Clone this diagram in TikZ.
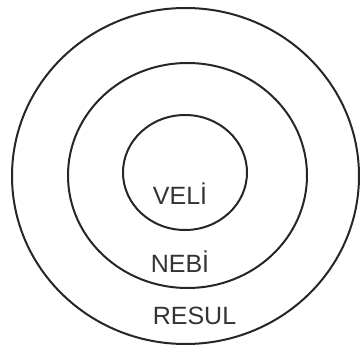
\documentclass[tikz,border=0pt]{standalone}
\usepackage{fontspec}
\setmainfont{Liberation Sans}
\usetikzlibrary{shapes.geometric}

\begin{document}
\begin{tikzpicture}[
    x=1pt, y=-1pt,
    ring/.style={draw=black!85, line width=2pt, ellipse, inner sep=0pt},
    lbl/.style={font=\fontsize{25}{30}\selectfont, text=black!80, anchor=base, inner sep=0pt},
  ]
    \useasboundingbox (0,0) rectangle (361,347);
    \node[ring, minimum width=347pt, minimum height=336pt] (resulring) at (185.5,176) {};
    \node[ring, minimum width=239pt, minimum height=225pt] (nebiring) at (187.5,175.5) {};
    \node[ring, minimum width=124pt, minimum height=115pt] (veliring) at (185,172.5) {};

    \node[lbl] (veli) at (180,205) {VELİ};
    \node[lbl] (nebi) at (180,272) {NEBİ};
    \node[lbl] (resul) at (194.5,324) {RESUL};
  \end{tikzpicture}
\end{document}
